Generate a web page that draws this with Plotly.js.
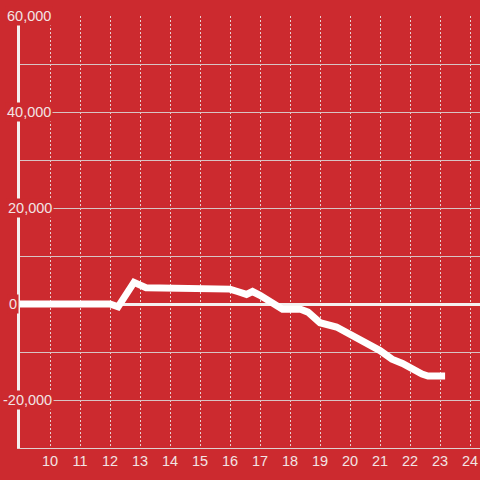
<!DOCTYPE html>
<html>
<head>
<meta charset="utf-8">
<script src="https://cdn.plot.ly/plotly-3.0.1.min.js"></script>
<style>html,body{margin:0;padding:0;background:#cc2a2f;}#chart{width:480px;height:480px;}</style>
</head>
<body>
<div id="chart"></div>
<script>
var hours = [9, 12.0, 12.27, 12.8, 13.2, 14.0, 14.33, 16.0, 16.25, 16.55, 16.75, 17.0, 17.75, 18.35, 18.6, 19.0, 19.55, 20.1, 21.0, 21.4, 21.75, 22.4, 22.6, 23.17];
var values = [0, 0, -600, 4500, 3400, 3400, 3100, 3100, 2600, 2000, 2600, 1800, -1100, -1100, -1700, -3900, -4800, -6700, -9700, -11500, -12400, -14600, -15000, -15000];
var xTickVals = [10, 11, 12, 13, 14, 15, 16, 17, 18, 19, 20, 21, 22, 23, 24];
var xTickText = ["10", "11", "12", "13", "14", "15", "16", "17", "18", "19", "20", "21", "22", "23", "24"];
var yLabelVals = [60000, 40000, 20000, 0, -20000];
var yLabelText = ["60,000", "40,000", "20,000", "0", "-20,000"];
var yLabelLeftPx = [5, 5, 6, 7, 1];

var bg = "#cc2a2f";
var fontCol = "#f2e4e4";
var fontFam = "Liberation Sans, Arial, sans-serif";

var annotations = yLabelVals.map(function (v, i) {
  return {
    xref: "paper", yref: "y",
    x: (yLabelLeftPx[i] - 20) / 460, y: v,
    xanchor: "left", yanchor: "middle",
    text: yLabelText[i], showarrow: false,
    bgcolor: bg, borderpad: 1,
    font: {family: fontFam, size: 14.5, color: fontCol}
  };
});

var trace = {
  x: hours, y: values, type: "scatter", mode: "lines",
  line: {color: "#ffffff", width: 7},
  hoverinfo: "skip"
};

var layout = {
  width: 480, height: 480,
  paper_bgcolor: bg, plot_bgcolor: bg,
  margin: {l: 20, r: 0, t: 16, b: 32},
  showlegend: false,
  font: {family: fontFam, size: 14.5, color: fontCol},
  xaxis: {
    range: [9, 24.3333], tickvals: xTickVals, ticktext: xTickText,
    showgrid: true, gridcolor: "#e8d0d0", griddash: "2px,2px", gridwidth: 1,
    zeroline: false, showline: true, linecolor: "#e0d0d0", linewidth: 1,
    ticks: "", tickfont: {size: 14.5, color: fontCol}
  },
  yaxis: {
    range: [-30000, 60000], dtick: 10000, showticklabels: false,
    showgrid: true, gridcolor: "#d8c4c4", gridwidth: 1,
    zeroline: true, zerolinecolor: "#f4f0f0", zerolinewidth: 3,
    showline: true, linecolor: "#f4f0f0", linewidth: 3, ticks: ""
  },
  annotations: annotations
};

Plotly.newPlot("chart", [trace], layout, {staticPlot: true, displayModeBar: false});
</script>
</body>
</html>
